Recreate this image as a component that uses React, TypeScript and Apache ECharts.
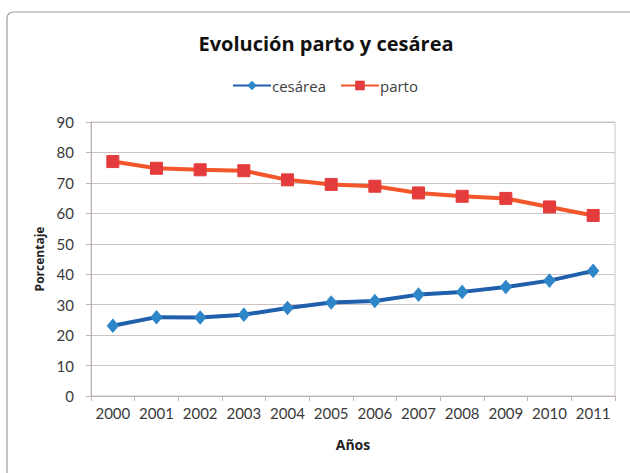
import React, { useEffect, useRef } from "react";
import * as echarts from "echarts";

const years = ["2000", "2001", "2002", "2003", "2004", "2005", "2006", "2007", "2008", "2009", "2010", "2011"];
const cesarea = [23.1, 25.9, 25.8, 26.7, 28.9, 30.7, 31.2, 33.3, 34.2, 35.8, 37.9, 41.1];
const parto = [77.0, 74.8, 74.3, 74.0, 71.0, 69.5, 68.9, 66.7, 65.6, 64.9, 62.1, 59.3];
const titleText = "Evolución parto y cesárea";
const xName = "Años";
const yName = "Porcentaje";

const FONT = "Lato, 'Open Sans', sans-serif";
const WIDE = "'Open Sans', Lato, sans-serif";

export default function App() {
  const ref = useRef<HTMLDivElement>(null);
  useEffect(() => {
    document.body.style.margin = "0";
    const chart = echarts.init(ref.current!, null, { renderer: "svg" });
    chart.setOption({
      animation: false,
      backgroundColor: "#ffffff",
      textStyle: { fontFamily: FONT },
      title: {
        text: titleText,
        left: 321,
        textAlign: "center",
        top: 28,
        textStyle: { fontFamily: WIDE, fontSize: 20, fontWeight: "bold", color: "#111111" },
      },
      legend: {
        top: 73,
        left: 227,
        itemWidth: 38,
        itemHeight: 12,
        itemGap: 14,
        textStyle: { fontFamily: WIDE, fontSize: 15, color: "#404040", padding: [0, 0, 0, -4] },
        data: ["cesárea", "parto"],
      },
      graphic: [
        {
          type: "rect",
          shape: { x: 7, y: 12, width: 660, height: 500, r: 6 },
          style: { fill: "none", stroke: "#a39a9a", lineWidth: 1.2 },
          silent: true,
        },
      ],
      grid: {
        left: 91,
        right: 15,
        top: 122,
        bottom: 77,
        show: true,
        borderColor: "#cfc6c6",
        borderWidth: 1,
        containLabel: false,
      },
      xAxis: {
        type: "category",
        data: years,
        boundaryGap: true,
        name: xName,
        nameLocation: "middle",
        nameGap: 41,
        nameTextStyle: { fontFamily: WIDE, fontSize: 14, fontWeight: "bold", color: "#222222" },
        axisLine: { show: true, lineStyle: { color: "#bdb3b3", width: 1 } },
        axisTick: { show: true, length: 5, alignWithLabel: false, lineStyle: { color: "#bdb3b3" } },
        axisLabel: { fontFamily: FONT, fontSize: 15, color: "#3a3a3a", margin: 9, interval: 0 },
        splitLine: { show: false },
      },
      yAxis: {
        type: "value",
        min: 0,
        max: 90,
        interval: 10,
        name: yName,
        nameLocation: "middle",
        nameRotate: 90,
        nameGap: 43,
        nameTextStyle: { fontFamily: WIDE, fontSize: 12, fontWeight: "bold", color: "#222222" },
        axisLine: { show: true, lineStyle: { color: "#bdb3b3", width: 1 } },
        axisTick: { show: true, length: 5, lineStyle: { color: "#bdb3b3" } },
        axisLabel: { fontFamily: FONT, fontSize: 15, color: "#3a3a3a", margin: 17 },
        splitLine: { show: true, lineStyle: { color: "#cdc3c3", width: 1 } },
      },
      series: [
        {
          name: "cesárea",
          type: "line",
          data: cesarea,
          symbol: "diamond",
          symbolSize: [11, 13],
          lineStyle: { color: "#1f5fab", width: 4 },
          itemStyle: { color: "#2c86c8", borderColor: "#2c86c8" },
          z: 3,
        },
        {
          name: "parto",
          type: "line",
          data: parto,
          symbol: "rect",
          symbolSize: 12,
          lineStyle: { color: "#f2562a", width: 4 },
          itemStyle: { color: "#e43c3c", borderColor: "#e43c3c" },
          z: 3,
        },
      ],
    });
    return () => chart.dispose();
  }, []);
  return <div ref={ref} style={{ width: 630, height: 473 }} />;
}
